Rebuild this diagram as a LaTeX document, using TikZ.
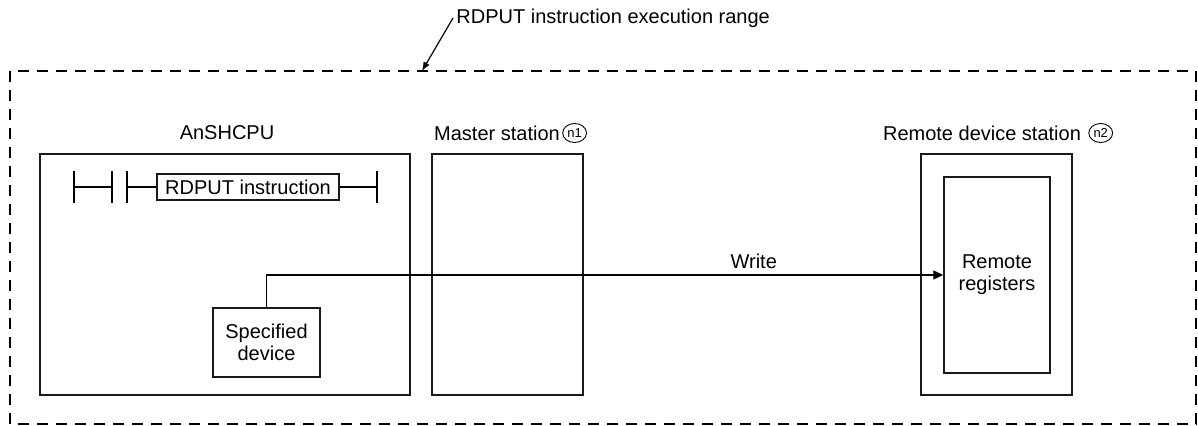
\documentclass[tikz,border=0pt]{standalone}
\usepackage{fontspec}
\setmainfont{Liberation Sans}
\usepackage{tikz}
\usetikzlibrary{arrows.meta,positioning,shapes.geometric}
\definecolor{FrameColor}{RGB}{25,25,25}

\begin{document}
\begin{tikzpicture}[x=0.5pt, y=-0.5pt,
    font=\fontsize{10}{11}\selectfont,
    unitbox/.style={draw=FrameColor, line width=0.75pt, inner sep=0pt},
    txt/.style={inner sep=0pt, align=center},
    cnum/.style={draw, ellipse, line width=0.45pt, inner sep=0.6pt, minimum height=9.5pt, minimum width=11pt, font=\fontsize{6.5}{6.5}\selectfont},
    rung/.style={line width=1pt}]
      \useasboundingbox (0,0) rectangle (1198,426);
      % execution range
      \draw[dashed, dash pattern=on 5.5pt off 4pt, line width=1pt] (10,71) rectangle (1196,424);
      \coordinate (rangetip) at (422,71);
      \node[txt, anchor=west] (rangelbl) at (456,18) {RDPUT instruction execution range};
      \draw[-{Latex[length=4.5pt,width=3.5pt]}, line width=0.6pt] (453,18) -- (rangetip);
      % stations
      \node[unitbox, minimum width=185pt, minimum height=120.5pt] (cpu) at (225,274.5) {};
      \node[unitbox, minimum width=75.5pt, minimum height=120.5pt] (master) at (507.5,274.5) {};
      \node[unitbox, minimum width=75.5pt, minimum height=120.5pt] (remote) at (996.5,274.5) {};
      \node[unitbox, minimum width=53pt, minimum height=98pt, txt] (regs) at (997,275) {Remote\\registers};
      \node[txt] (cpulbl) at (227,133) {AnSHCPU};
      \node[txt] (masterlbl) at (497,133) {Master station};
      \node[cnum, right=1pt of masterlbl] (n1) {n1};
      \node[txt] (remotelbl) at (982,133) {Remote device station};
      \node[cnum, right=3.5pt of remotelbl] (n2) {n2};
      % ladder
      \node[unitbox, minimum width=91pt, minimum height=13pt] (rdput) at (248,187) {RDPUT instruction};
      \draw[rung] (74,171) -- (74,203);
      \draw[rung] (112,171) -- (112,203);
      \draw[rung] (127,171) -- (127,203);
      \draw[rung] (377,171) -- (377,203);
      \draw[rung] (74,187) -- (112,187);
      \draw[rung] (127,187) -- (rdput.west);
      \draw[rung] (rdput.east) -- (377,187);
      % write path
      \node[unitbox, minimum width=53.5pt, minimum height=34.5pt, txt] (spec) at (266.5,342.5) {Specified\\device};
      \draw[-{Triangle[length=5pt,width=4.5pt]}, line width=0.6pt] (spec.north) |- node[pos=0.86, above, inner sep=3pt] (writelbl) {Write} (regs.west);
    \end{tikzpicture}
\end{document}
